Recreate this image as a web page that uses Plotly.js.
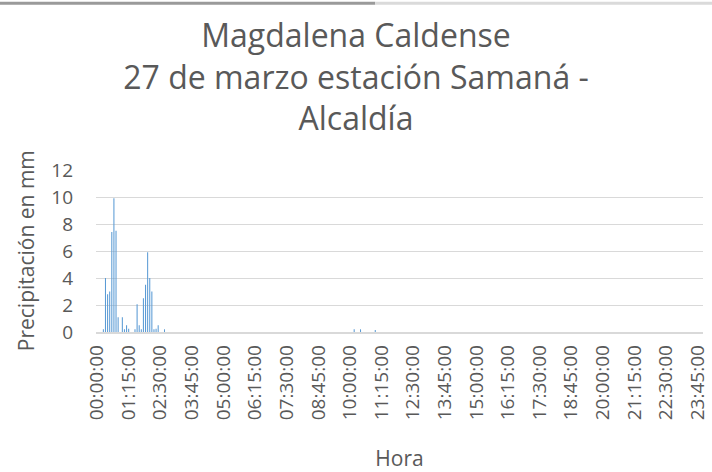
<!DOCTYPE html>
<html>
<head>
<meta charset="utf-8">
<script src="https://cdn.plot.ly/plotly-3.0.1.min.js"></script>
<style>
  html, body { margin: 0; padding: 0; background: #ffffff; }
  #chart { width: 712px; height: 472px; }
</style>
</head>
<body>
<div id="chart"></div>
<script>
// Title lines
const titleLines = ["Magdalena Caldense", "27 de marzo estación Samaná -", "Alcaldía"];
const xTitle = "Hora";
const yTitle = "Precipitación en mm";

// Tick labels shown on the x axis (every 75 minutes)
const tickLabels = ["00:00:00","01:15:00","02:30:00","03:45:00","05:00:00","06:15:00",
  "07:30:00","08:45:00","10:00:00","11:15:00","12:30:00","13:45:00","15:00:00",
  "16:15:00","17:30:00","18:45:00","20:00:00","21:15:00","22:30:00","23:45:00"];

// Precipitation (mm) per 5-minute interval, one row per hour (12 values each)
const rainfall = [
  0,0,0,0.2,4.0,2.8,3.0,7.4,9.9,7.5,1.1,0,          // 00h
  1.1,0.2,0.5,0.25,0,0,0.2,2.05,0.5,0.2,2.5,3.5,    // 01h
  5.9,4.0,3.0,0.2,0.25,0.5,0,0,0.2,0,0,0,           // 02h
  0,0,0,0,0,0,0,0,0,0,0,0,                          // 03h
  0,0,0,0,0,0,0,0,0,0,0,0,                          // 04h
  0,0,0,0,0,0,0,0,0,0,0,0,                          // 05h
  0,0,0,0,0,0,0,0,0,0,0,0,                          // 06h
  0,0,0,0,0,0,0,0,0,0,0,0,                          // 07h
  0,0,0,0,0,0,0,0,0,0,0,0,                          // 08h
  0,0,0,0,0,0,0,0,0,0,0,0,                          // 09h
  0,0,0.2,0,0,0.2,0,0,0,0,0,0,                      // 10h
  0.15,0,0,0,0,0,0,0,0,0,0,0,                       // 11h
  0,0,0,0,0,0,0,0,0,0,0,0,                          // 12h
  0,0,0,0,0,0,0,0,0,0,0,0,                          // 13h
  0,0,0,0,0,0,0,0,0,0,0,0,                          // 14h
  0,0,0,0,0,0,0,0,0,0,0,0,                          // 15h
  0,0,0,0,0,0,0,0,0,0,0,0,                          // 16h
  0,0,0,0,0,0,0,0,0,0,0,0,                          // 17h
  0,0,0,0,0,0,0,0,0,0,0,0,                          // 18h
  0,0,0,0,0,0,0,0,0,0,0,0,                          // 19h
  0,0,0,0,0,0,0,0,0,0,0,0,                          // 20h
  0,0,0,0,0,0,0,0,0,0,0,0,                          // 21h
  0,0,0,0,0,0,0,0,0,0,0,0,                          // 22h
  0,0,0,0,0,0,0,0,0,0,0,0                           // 23h
];

// Category labels: HH:MM:00 every 5 minutes across the day
const hours = ["00","01","02","03","04","05","06","07","08","09","10","11",
               "12","13","14","15","16","17","18","19","20","21","22","23"];
const minutes = ["00","05","10","15","20","25","30","35","40","45","50","55"];
const times = [];
hours.forEach(h => minutes.forEach(m => times.push(h + ":" + m + ":00")));

const txt = "#595959";
const grid = "#D9D9D9";
const font = "Open Sans, sans-serif";

const trace = {
  type: "bar",
  x: times,
  y: rainfall,
  marker: { color: "#5B9BD5", line: { width: 0 } },
  hoverinfo: "x+y"
};

const layout = {
  width: 712, height: 472,
  paper_bgcolor: "#ffffff", plot_bgcolor: "#ffffff",
  margin: { l: 96, r: 9, t: 170, b: 140, pad: 0 },
  showlegend: false,
  bargap: 0.5,
  title: {
    text: titleLines.join("<br>"),
    font: { family: font, size: 32, color: txt },
    x: 0.5, xanchor: "center", xref: "container",
    y: 0.9, yanchor: "top", yref: "container"
  },
  xaxis: {
    type: "category",
    categoryorder: "array", categoryarray: times,
    range: [-0.5, times.length - 0.5],
    tickmode: "array", tickvals: tickLabels, ticktext: tickLabels,
    tickangle: -90,
    tickfont: { family: font, size: 19, color: txt },
    showgrid: false, zeroline: false,
    showline: true, linecolor: grid, linewidth: 1.5,
    ticks: "",
    ticklabelstandoff: 4,
    title: { text: xTitle, font: { family: font, size: 21, color: txt }, standoff: 37 }
  },
  yaxis: {
    range: [0, 12], dtick: 2, tick0: 0,
    tickfont: { family: font, size: 19, color: txt },
    showgrid: true, gridcolor: grid, gridwidth: 1,
    zeroline: false, showline: false, ticks: "",
    ticklabelstandoff: 22,
    title: { text: "" }
  },
  shapes: [
    { type: "line", xref: "paper", yref: "paper",
      x0: -0.16, x1: 0.46, y0: 2.03, y1: 2.03,
      line: { color: "#9A9A9A", width: 3 } },
    { type: "line", xref: "paper", yref: "paper",
      x0: 0.46, x1: 1.02, y0: 2.03, y1: 2.03,
      line: { color: "#DADADA", width: 3 } }
  ],
  annotations: [{
    text: yTitle,
    textangle: -90,
    xref: "paper", yref: "paper",
    x: -0.115, y: 0.5,
    xanchor: "center", yanchor: "middle",
    showarrow: false,
    font: { family: font, size: 21, color: txt }
  }]
};

Plotly.newPlot("chart", [trace], layout, { displayModeBar: false, staticPlot: true });
</script>
</body>
</html>
